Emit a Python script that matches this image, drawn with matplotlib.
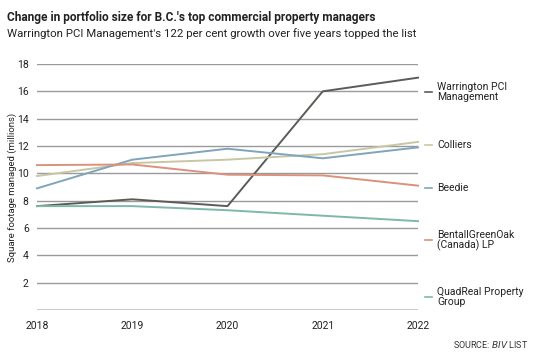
import matplotlib.pyplot as plt

years = [2018, 2019, 2020, 2021, 2022]
warrington = [7.6, 8.1, 7.6, 16.0, 17.0]
colliers = [9.8, 10.75, 11.0, 11.4, 12.3]
beedie = [8.9, 11.0, 11.8, 11.1, 11.9]
bentall = [10.6, 10.65, 9.9, 9.85, 9.1]
quadreal = [7.6, 7.6, 7.3, 6.9, 6.5]

names = ["Warrington PCI\nManagement", "Colliers", "Beedie",
         "BentallGreenOak\n(Canada) LP", "QuadReal Property\nGroup"]
label_y = [15.95, 12.1, 8.9, 5.1, 0.95]  # legend label positions, data units
colors = ["#5b5b57", "#c9c6a3", "#7fa5ba", "#da917d", "#80b7aa"]
series = [warrington, colliers, beedie, bentall, quadreal]

plt.rcParams['font.family'] = ['Roboto', 'DejaVu Sans']

fig = plt.figure(figsize=(5.41, 3.55), dpi=100)
ax = fig.add_axes([37/541, 1 - 310/355, (418 - 37)/541, (310 - 64)/355])

for v in range(2, 19, 2):
    ax.axhline(v, color="#9a9a9a", lw=1.0, zorder=1)
ax.axhline(0, color="#c4c4c4", lw=2.0, zorder=1)

for vals, c in zip(series, colors):
    ax.plot(years, vals, color=c, lw=1.4, zorder=3, clip_on=False)

for name, yy, c in zip(names, label_y, colors):
    ax.plot([2022.07, 2022.15], [yy, yy], color=c, lw=1.2, clip_on=False)
    ax.text(2022.2, yy, name, fontsize=7.5, va="center", ha="left",
            linespacing=0.9, color="#222222")

ax.set_xlim(2018, 2022)
ax.set_ylim(0, 18)
ax.set_xticks(years)
ax.set_yticks(range(2, 19, 2))
ax.tick_params(length=0, labelsize=7.5, colors="#222222")
ax.tick_params(axis="y", pad=6)
ax.tick_params(axis="x", pad=8)
for s in ax.spines.values():
    s.set_visible(False)
ax.set_ylabel("Square footage managed (millions)", fontsize=6.8, color="#222222")
ax.yaxis.set_label_coords(-20/381, 0.5)

fig.text(7/541, 1 - 17/355, "Change in portfolio size for B.C.'s top commercial property managers",
         fontsize=8.6, fontweight="bold", va="center", color="#222222")
fig.text(7/541, 1 - 34/355, "Warrington PCI Management's 122 per cent growth over five years topped the list",
         fontsize=8.2, va="center", color="#222222")
fig.text(528/541, 1 - 344/355, "SOURCE: $\\it{BIV}$ LIST", fontsize=6.5, ha="right", va="center",
         color="#333333")

fig.savefig("out.png", dpi=100)
